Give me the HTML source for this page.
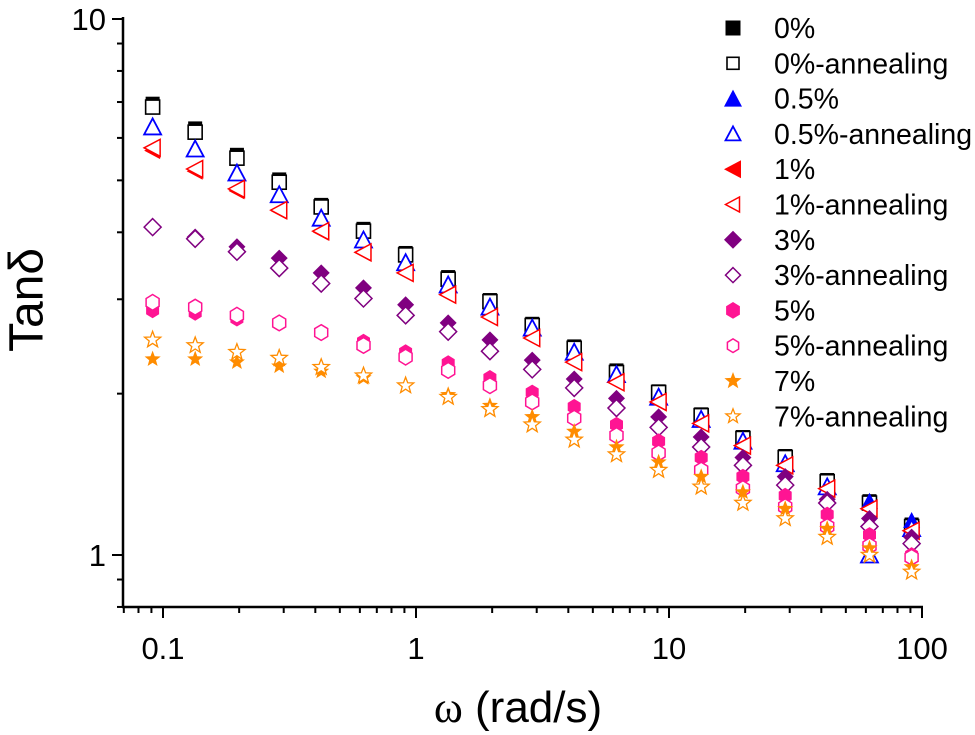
<!DOCTYPE html>
<html><head><meta charset="utf-8"><style>
html,body{margin:0;padding:0;background:#fff;}
svg{display:block;font-family:"Liberation Sans",Arial,sans-serif;}
</style></head><body>
<svg id="chart" width="975" height="735" viewBox="0 0 975 735">
<g id="axes"></g>
<g id="marks"></g>
<g id="legend"></g>
<text x="30" y="300" font-size="48" text-anchor="middle" dominant-baseline="middle" transform="rotate(-90 30 300)">Tanδ</text>
<text x="518" y="722" font-size="44" text-anchor="middle"><tspan font-family="Liberation Serif, serif">ω</tspan> (rad/s)</text>
</svg>
<script>
const seriesNames = ["0%","0%-annealing","0.5%","0.5%-annealing","1%","1%-annealing","3%","3%-annealing","5%","5%-annealing","7%","7%-annealing"];
const omega = [0.091,0.134,0.196,0.288,0.422,0.62,0.91,1.34,1.96,2.88,4.22,6.2,9.1,13.4,19.6,28.8,42.2,62,91];
const s0 = [6.95,6.25,5.58,5.02,4.5,4.06,3.66,3.3,2.99,2.7,2.45,2.21,2.02,1.83,1.66,1.53,1.38,1.26,1.14];
const s0a = [6.85,6.15,5.5,4.96,4.46,4.02,3.63,3.27,2.97,2.68,2.43,2.19,2.01,1.82,1.65,1.52,1.37,1.25,1.13];
const s05 = [6.29,5.72,5.16,4.7,4.25,3.87,3.51,3.19,2.9,2.65,2.39,2.17,1.97,1.79,1.63,1.48,1.34,1.26,1.16];
const s05a = [6.29,5.72,5.16,4.7,4.25,3.87,3.51,3.19,2.9,2.65,2.39,2.17,1.97,1.79,1.63,1.48,1.34,1.0,1.12];
const s1 = [5.68,5.2,4.78,4.38,4.0,3.66,3.36,3.06,2.78,2.54,2.29,2.1,1.93,1.76,1.6,1.47,1.33,1.22,1.11];
const s1a = [5.75,5.25,4.82,4.4,4.02,3.67,3.36,3.06,2.78,2.54,2.29,2.1,1.93,1.76,1.6,1.47,1.33,1.22,1.11];
const s3 = [4.09,3.92,3.76,3.58,3.36,3.15,2.93,2.71,2.52,2.31,2.13,1.96,1.81,1.66,1.52,1.4,1.27,1.17,1.08];
const s3a = [4.09,3.89,3.68,3.43,3.21,3.01,2.8,2.61,2.4,2.22,2.05,1.88,1.73,1.59,1.47,1.35,1.25,1.13,1.05];
const s5 = [2.86,2.83,2.76,2.71,2.6,2.5,2.39,2.28,2.14,2.01,1.89,1.75,1.63,1.52,1.4,1.29,1.19,1.09,1.0];
const s5a = [2.96,2.9,2.8,2.71,2.6,2.46,2.34,2.21,2.07,1.93,1.8,1.67,1.55,1.44,1.33,1.23,1.13,1.04,0.99];
const s7 = [2.32,2.32,2.29,2.25,2.2,2.14,2.07,1.99,1.9,1.81,1.7,1.59,1.49,1.4,1.31,1.22,1.12,1.03,0.95];
const s7a = [2.52,2.46,2.39,2.33,2.24,2.16,2.07,1.97,1.87,1.75,1.64,1.54,1.44,1.34,1.25,1.17,1.08,1.0,0.93];
const xTicks = ["0.1","1","10","100"];
const yTicks = ["1","10"];

const NS="http://www.w3.org/2000/svg";
const X0=123,X1=922,YT=19,YB=607;
function xs(v){return 416+253*Math.log10(v);}
function ys(v){return 555-536*Math.log10(v);}
function mk(tag,attrs,parent){const e=document.createElementNS(NS,tag);for(const k in attrs)e.setAttribute(k,attrs[k]);parent.appendChild(e);return e;}

const axes=document.getElementById('axes');
let el=mk('line',{x1:X0,y1:YT-2,x2:X0,y2:YB,stroke:'#000','stroke-width':2.5},axes);


el=mk('line',{x1:X0-1,y1:YB,x2:X1+1,y2:YB,stroke:'#000','stroke-width':2.5},axes);


for(let d=-2;d<=1;d++){for(let m=1;m<10;m++){const v=Math.pow(10,d)*m;const x=xs(v);if(x<X0||x>X1+1)continue;
 el=mk('line',{x1:x,y1:YB,x2:x,y2:YB+(m===1?11:6),stroke:'#000','stroke-width':2},axes);
 
 }}
el=mk('line',{x1:xs(100),y1:YB,x2:xs(100),y2:YB+11,stroke:'#000','stroke-width':2},axes);


xTicks.forEach(t=>{const e=mk('text',{x:xs(parseFloat(t)),y:659,'font-size':31,'text-anchor':'middle'},axes);e.textContent=t;
 
 });
[0.8,0.9,1,2,3,4,5,6,7,8,9,10].forEach(v=>{const y=ys(v);const major=(v===1||v===10);
 const e=mk('line',{x1:X0-(major?11:6),y1:y,x2:X0,y2:y,stroke:'#000','stroke-width':2},axes);
 
 });
yTicks.forEach(t=>{const e=mk('text',{x:106,y:ys(parseFloat(t))+11,'font-size':31,'text-anchor':'end'},axes);e.textContent=t;
 
 });

function star(cx,cy,r){let p=[];for(let i=0;i<10;i++){const a=-Math.PI/2+i*Math.PI/5;const rr=i%2?r*0.42:r;p.push((cx+rr*Math.cos(a)).toFixed(1)+','+(cy+rr*Math.sin(a)).toFixed(1));}return p.join(' ');}
function marker(type,color,filled,cx,cy,parent,s){
 const f=filled?color:'#fff',sw=filled?0:1.5;s=s||7.5;
 if(type==='sq')return mk('rect',{x:cx-s+0.5,y:cy-s+0.5,width:2*s-1,height:2*s-1,fill:f,stroke:color,'stroke-width':filled?0:1.6},parent);
 if(type==='tri')return mk('polygon',{points:`${cx},${cy-s-1} ${cx+s+1},${cy+s} ${cx-s-1},${cy+s}`,fill:f,stroke:color,'stroke-width':filled?0:1.8},parent);
 if(type==='ltri')return mk('polygon',{points:`${cx-s-1},${cy} ${cx+s},${cy-s-1} ${cx+s},${cy+s+1}`,fill:f,stroke:color,'stroke-width':filled?0:1.5},parent);
 if(type==='dia')return mk('polygon',{points:`${cx},${cy-s-1} ${cx+s+1},${cy} ${cx},${cy+s+1} ${cx-s-1},${cy}`,fill:f,stroke:color,'stroke-width':sw},parent);
 if(type==='hex'){let p=[];for(let i=0;i<6;i++){const a=-Math.PI/2+i*Math.PI/3;p.push((cx+s*Math.cos(a)).toFixed(1)+','+(cy+s*1.05*Math.sin(a)).toFixed(1));}
  return mk('polygon',{points:p.join(' '),fill:f,stroke:color,'stroke-width':sw},parent);}
 return mk('polygon',{points:star(cx,cy,s+1),fill:f,stroke:color,'stroke-width':filled?0:1.3},parent);
}
const SER=[
 [s0,'sq','#000',true],[s0a,'sq','#000',false],
 [s05,'tri','#0000ff',true],[s05a,'tri','#0000ff',false],
 [s1,'ltri','#ff0000',true],[s1a,'ltri','#ff0000',false],
 [s3,'dia','#800080',true],[s3a,'dia','#800080',false],
 [s5,'hex','#ff1493',true],[s5a,'hex','#ff1493',false],
 [s7,'star','#ff8c00',true],[s7a,'star','#ff8c00',false]];
const marks=document.getElementById('marks');
SER.forEach((s,k)=>{const g=mk('g',{},marks);
 
 
 s[0].forEach((v,i)=>{const e=marker(s[1],s[2],s[3],xs(omega[i]),ys(v),g);
  
  });});
const leg=document.getElementById('legend');
seriesNames.forEach((n,k)=>{const y=28+35.3*k;const s=SER[k];
 const g=mk('g',{},leg);
 
 
 marker(s[1],s[2],s[3],733,y,g,s[3]?8:6.5);
 const t=mk('text',{x:774,y:y+10,'font-size':28.5},g);t.textContent=n;});
</script>
</body></html>
